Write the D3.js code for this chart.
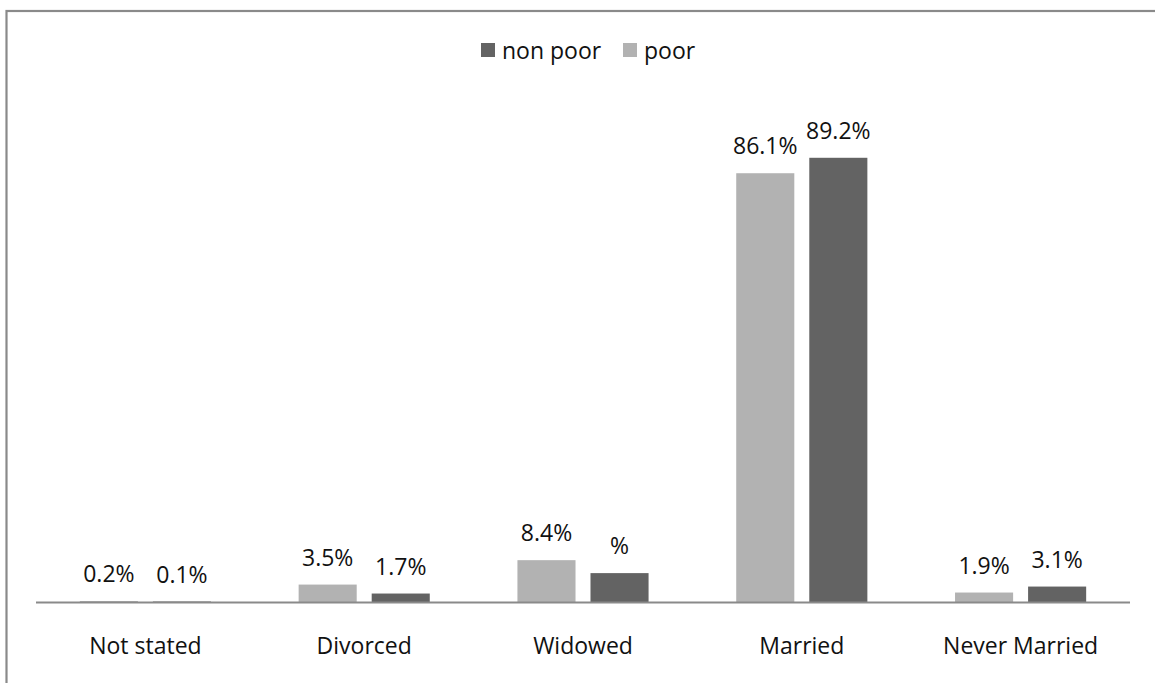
<!DOCTYPE html>
<html>
<head>
<meta charset="utf-8">
<script src="https://cdn.jsdelivr.net/npm/d3@7"></script>
<style>
  html, body { margin: 0; padding: 0; background: #fff; }
  svg { display: block; font-family: "Open Sans", "DejaVu Sans", sans-serif; }
</style>
</head>
<body>
<svg id="chart" width="1155" height="683"></svg>
<script>
// Marital status of household heads, share (%) by poverty status
const categories = ["Not stated", "Divorced", "Widowed", "Married", "Never Married"];
const seriesNames = ["poor", "non poor"];
const poorValues = [0.2, 3.5, 8.4, 86.1, 1.9];
const nonPoorValues = [0.1, 1.7, 5.8, 89.2, 3.1];
// Value labels as printed; null means "print the value"
const nonPoorLabelText = [null, null, "%", null, null];
const legendOrder = ["non poor", "poor"];

const colors = { "poor": "#b2b2b2", "non poor": "#636363" };
const FONT_SIZE = 23;

const svg = d3.select("#chart");
const W = 1155, H = 683;

// Outer chart frame (continues past the right and bottom edges)
svg.append("rect")
  .attr("x", 6.5).attr("y", 11)
  .attr("width", W + 20).attr("height", H + 20)
  .attr("fill", "#fff")
  .attr("stroke", "#8a8a8a")
  .attr("stroke-width", 2.2);

const plotLeft = 36, plotRight = 1130, baseY = 602;

const x = d3.scaleBand().domain(categories).range([plotLeft, plotRight]).paddingInner(0).paddingOuter(0);
const xs = d3.scaleBand().domain(seriesNames).range([0, x.bandwidth()]).paddingInner(0.205).paddingOuter(0.6);
const y = d3.scaleLinear().domain([0, 100]).range([baseY, baseY - 498]);

const rows = categories.map((c, i) => ({
  category: c,
  values: [
    { series: "poor", value: poorValues[i], label: d3.format(".1f")(poorValues[i]) + "%" },
    { series: "non poor", value: nonPoorValues[i],
      label: nonPoorLabelText[i] !== null ? nonPoorLabelText[i] : d3.format(".1f")(nonPoorValues[i]) + "%" }
  ]
}));

const groups = svg.append("g").selectAll("g")
  .data(rows).join("g")
  .attr("transform", d => `translate(${x(d.category)},0)`);

groups.selectAll("rect")
  .data(d => d.values).join("rect")
  .attr("x", d => xs(d.series))
  .attr("y", d => y(d.value))
  .attr("width", xs.bandwidth())
  .attr("height", d => y(0) - y(d.value))
  .attr("fill", d => colors[d.series]);

groups.selectAll("text.val")
  .data(d => d.values).join("text")
  .attr("class", "val")
  .attr("x", d => xs(d.series) + xs.bandwidth() / 2)
  .attr("y", d => y(d.value) - 19)
  .attr("text-anchor", "middle")
  .attr("font-size", FONT_SIZE)
  .attr("fill", "#111")
  .text(d => d.label);

// Category axis: baseline only, no ticks
const axis = svg.append("g")
  .attr("transform", `translate(0,${baseY + 0.5})`)
  .call(d3.axisBottom(x).tickSize(0).tickPadding(0));
axis.select(".domain").attr("stroke", "#8a8a8a").attr("stroke-width", 2).attr("d", `M${plotLeft},0H${plotRight}`);
axis.selectAll(".tick text")
  .attr("y", 0)
  .attr("dy", 0)
  .attr("transform", "translate(0,51)")
  .attr("font-size", FONT_SIZE)
  .attr("font-family", "Open Sans, DejaVu Sans, sans-serif")
  .attr("fill", "#111");

// Legend
const legendX = [481, 623];
const legend = svg.append("g").selectAll("g")
  .data(legendOrder).join("g")
  .attr("transform", (d, i) => `translate(${legendX[i]},43)`);
legend.append("rect").attr("width", 14).attr("height", 14).attr("fill", d => colors[d]);
legend.append("text")
  .attr("x", 21).attr("y", 16)
  .attr("font-size", FONT_SIZE)
  .attr("fill", "#111")
  .text(d => d);
</script>
</body>
</html>
